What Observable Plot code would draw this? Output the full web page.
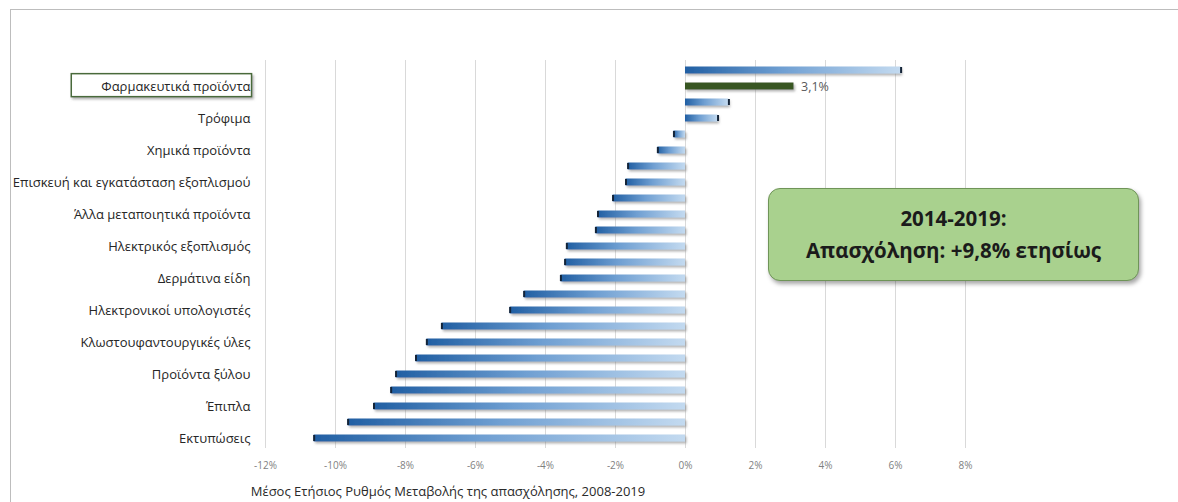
<!DOCTYPE html>
<html>
<head>
<meta charset="utf-8">
<script src="https://cdn.jsdelivr.net/npm/d3@7"></script>
<script src="https://cdn.jsdelivr.net/npm/@observablehq/plot@0.6"></script>
<style>
  html, body { margin: 0; padding: 0; background: #fff; }
  #wrap { position: relative; width: 1178px; height: 502px; overflow: hidden; font-family: "Open Sans", sans-serif; }
  #frame { position: absolute; left: 10px; top: 9px; width: 1200px; height: 600px; border-top: 1px solid #bdbdbd; border-left: 1px solid #bdbdbd; }
  #chart { position: absolute; left: 0; top: 0; }
  #caption { position: absolute; left: 0; top: 482px; width: 896px; text-align: center; font-size: 13px; color: #2a2a2a; }
  #note { position: absolute; left: 768px; top: 188px; width: 371px; height: 93px; border-radius: 12px; background: #a9d18e; border: 1.5px solid #6f9458; box-shadow: 2px 3px 4px rgba(0,0,0,0.35); text-align: center; font-weight: 700; font-size: 20.5px; line-height: 32px; color: #1b1b1b; box-sizing: border-box; padding-top: 13px; }
</style>
</head>
<body>
<div id="wrap">
  <div id="frame"></div>
  <div id="chart"></div>
  <div id="caption"></div>
  <div id="note"></div>
</div>
<script>
const labels = ["", "Φαρμακευτικά προϊόντα", "", "Τρόφιμα", "", "Χημικά προϊόντα", "", "Επισκευή και εγκατάσταση εξοπλισμού", "", "Άλλα μεταποιητικά προϊόντα", "", "Ηλεκτρικός εξοπλισμός", "", "Δερμάτινα είδη", "", "Ηλεκτρονικοί υπολογιστές", "", "Κλωστουφαντουργικές ύλες", "", "Προϊόντα ξύλου", "", "Έπιπλα", "", "Εκτυπώσεις"];
const values = [6.16, 3.1, 1.24, 0.93, -0.33, -0.79, -1.64, -1.70, -2.07, -2.5, -2.56, -3.39, -3.44, -3.56, -4.61, -5.01, -6.96, -7.39, -7.70, -8.27, -8.41, -8.9, -9.64, -10.61];
const highlightIndex = 1;
const highlightLabel = "3,1%";
const xTicks = [-12, -10, -8, -6, -4, -2, 0, 2, 4, 6, 8];
const axisTitle = "Μέσος Ετήσιος Ρυθμός Μεταβολής της απασχόλησης, 2008-2019";
const noteLines = ["2014-2019:", "Απασχόληση: +9,8% ετησίως"];

const data = values.map((v, i) => ({i, v, label: labels[i], hl: i === highlightIndex}));
const normal = data.filter(d => !d.hl);
const hl = data.filter(d => d.hl);

const plot = Plot.plot({
  width: 1178,
  height: 478,
  marginTop: 60,
  marginBottom: 30,
  marginLeft: 265,
  marginRight: 213,
  style: {fontFamily: "'Open Sans', sans-serif", background: "transparent", overflow: "visible"},
  x: {domain: [-12, 8], ticks: xTicks, tickFormat: d => d + "%", label: null, tickSize: 0, tickPadding: 13},
  y: {type: "band", domain: d3.range(values.length), padding: 0, label: null, tickSize: 0, tickPadding: 15, tickFormat: i => labels[i]},
  marks: [
    Plot.gridX(xTicks, {stroke: "#d9d9d9", strokeOpacity: 1, strokeWidth: 1}),
    Plot.barX(normal, {x: "v", y: "i", fill: "url(#barGrad)", insetTop: 4.5, insetBottom: 4.5}),
    Plot.tickX(normal, {x: "v", y: "i", stroke: "#142438", strokeWidth: 2, insetTop: 5, insetBottom: 5}),
    Plot.barX(hl, {x: "v", y: "i", fill: "#385723", insetTop: 4.5, insetBottom: 4.5}),
    Plot.text(hl, {x: "v", y: "i", text: () => highlightLabel, textAnchor: "start", dx: 7, fill: "#595959", fontSize: 12.5})
  ]
});
document.getElementById("chart").appendChild(plot);

const svg = d3.select(plot);
const defs = svg.insert("defs", ":first-child");
const g = defs.append("linearGradient").attr("id", "barGrad").attr("x1", "0").attr("x2", "1").attr("y1", "0").attr("y2", "0");
g.append("stop").attr("offset", "0%").attr("stop-color", "#215fa3");
g.append("stop").attr("offset", "45%").attr("stop-color", "#6f9fd2");
g.append("stop").attr("offset", "100%").attr("stop-color", "#c3daf0");
const f = defs.append("filter").attr("id", "shadow").attr("x", "-10%").attr("y", "-50%").attr("width", "120%").attr("height", "250%");
f.append("feDropShadow").attr("dx", 1.5).attr("dy", 2).attr("stdDeviation", 1).attr("flood-color", "#777").attr("flood-opacity", 0.55);
svg.selectAll("g[aria-label='bar']").attr("filter", "url(#shadow)");

svg.selectAll("g[aria-label='x-axis tick label']").attr("fill", "#7f7f7f").attr("font-size", 10);
svg.selectAll("g[aria-label='y-axis tick label']").attr("fill", "#262626").attr("font-size", 13);

// box around highlighted category label
const yLabels = svg.selectAll("g[aria-label='y-axis tick label'] text").nodes();
const target = yLabels.find(t => t.textContent === labels[highlightIndex]);
if (target) {
  const bb = target.getBBox();
  d3.select(target.parentNode).insert("rect", ":first-child")
    .attr("x", bb.x - 30).attr("y", bb.y - 3)
    .attr("width", bb.width + 31).attr("height", bb.height + 5)
    .attr("transform", target.getAttribute("transform"))
    .attr("fill", "#fff").attr("stroke", "#4a6a3a").attr("stroke-width", 1.5)
    .attr("filter", "url(#shadow)");
}

document.getElementById("caption").textContent = axisTitle;
document.getElementById("note").innerHTML = noteLines.map(s => `<div>${s}</div>`).join("");
</script>
</body>
</html>
